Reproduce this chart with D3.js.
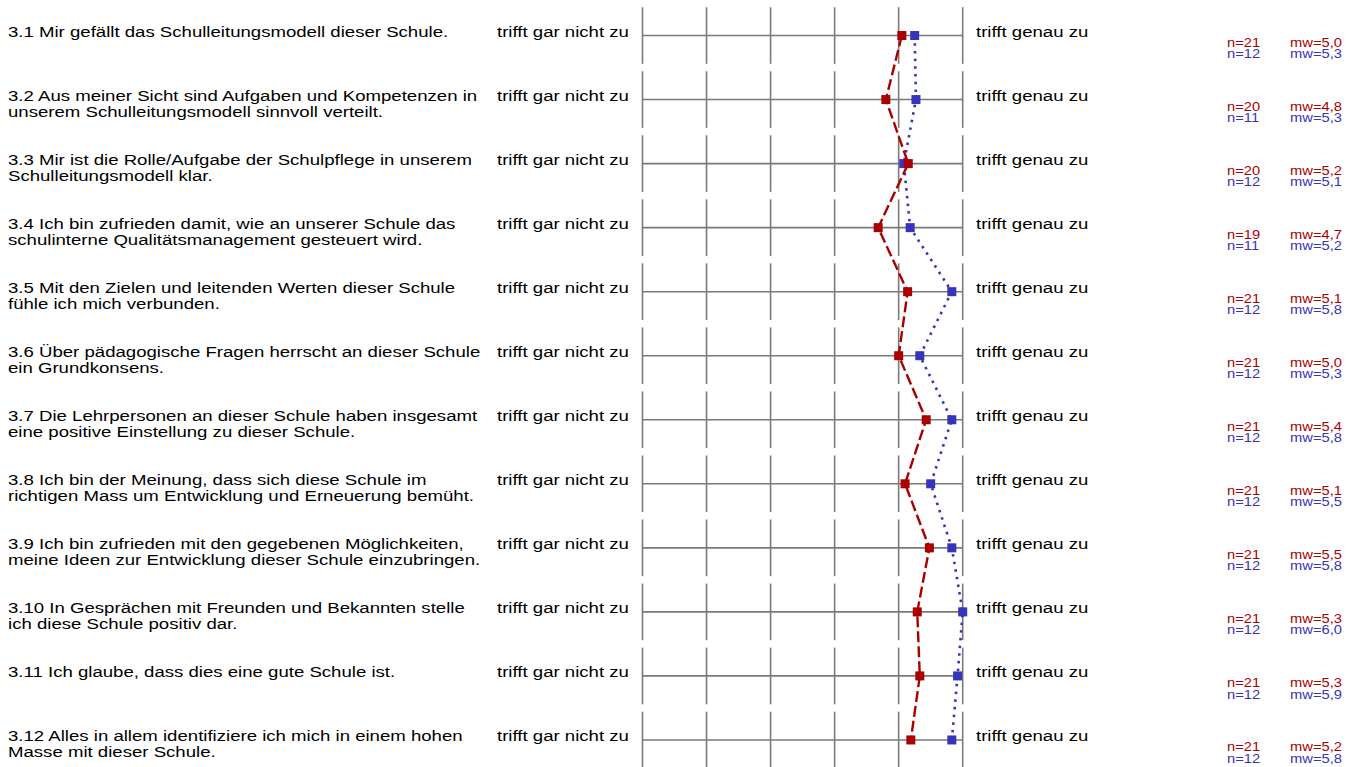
<!DOCTYPE html>
<html>
<head>
<meta charset="utf-8">
<script src="https://cdn.jsdelivr.net/npm/d3@7"></script>
<style>
  html, body { margin: 0; padding: 0; background: #fff; }
  svg { display: block; }
  text { font-family: "Liberation Sans", Arial, Helvetica, sans-serif; }
</style>
</head>
<body>
<svg id="chart" width="1346" height="767"></svg>
<script>
const questions = [
  ["3.1 Mir gefällt das Schulleitungsmodell dieser Schule."],
  ["3.2 Aus meiner Sicht sind Aufgaben und Kompetenzen in", "unserem Schulleitungsmodell sinnvoll verteilt."],
  ["3.3 Mir ist die Rolle/Aufgabe der Schulpflege in unserem", "Schulleitungsmodell klar."],
  ["3.4 Ich bin zufrieden damit, wie an unserer Schule das", "schulinterne Qualitätsmanagement gesteuert wird."],
  ["3.5 Mit den Zielen und leitenden Werten dieser Schule", "fühle ich mich verbunden."],
  ["3.6 Über pädagogische Fragen herrscht an dieser Schule", "ein Grundkonsens."],
  ["3.7 Die Lehrpersonen an dieser Schule haben insgesamt", "eine positive Einstellung zu dieser Schule."],
  ["3.8 Ich bin der Meinung, dass sich diese Schule im", "richtigen Mass um Entwicklung und Erneuerung bemüht."],
  ["3.9 Ich bin zufrieden mit den gegebenen Möglichkeiten,", "meine Ideen zur Entwicklung dieser Schule einzubringen."],
  ["3.10 In Gesprächen mit Freunden und Bekannten stelle", "ich diese Schule positiv dar."],
  ["3.11 Ich glaube, dass dies eine gute Schule ist."],
  ["3.12 Alles in allem identifiziere ich mich in einem hohen", "Masse mit dieser Schule."]
];
const leftPole = "trifft gar nicht zu";
const rightPole = "trifft genau zu";
const scaleTicks = [1, 2, 3, 4, 5, 6];

// series 1 (red)
const redMeans = [5.05, 4.80, 5.15, 4.68, 5.14, 5.00, 5.43, 5.10, 5.48, 5.29, 5.33, 5.19];
const redN     = ["n=21","n=20","n=20","n=19","n=21","n=21","n=21","n=21","n=21","n=21","n=21","n=21"];
const redMw    = ["mw=5,0","mw=4,8","mw=5,2","mw=4,7","mw=5,1","mw=5,0","mw=5,4","mw=5,1","mw=5,5","mw=5,3","mw=5,3","mw=5,2"];
// series 2 (blue)
const blueMeans = [5.25, 5.27, 5.08, 5.18, 5.83, 5.33, 5.83, 5.50, 5.83, 6.00, 5.92, 5.83];
const blueN     = ["n=12","n=11","n=12","n=11","n=12","n=12","n=12","n=12","n=12","n=12","n=12","n=12"];
const blueMw    = ["mw=5,3","mw=5,3","mw=5,1","mw=5,2","mw=5,8","mw=5,3","mw=5,8","mw=5,5","mw=5,8","mw=6,0","mw=5,9","mw=5,8"];

const RED = "#aa0000", BLUE = "#3535bb", GRID = "#7a7a7a";

const svg = d3.select("#chart");
const idx = d3.range(questions.length);
const y = d3.scaleBand().domain(idx).range([3.5, 3.5 + 64.04 * questions.length]);
const cy = i => y(i) + y.bandwidth() / 2;
const x = d3.scaleLinear().domain([1, 6]).range([642.5, 962.7]);

// grid per row
const rows = svg.append("g").selectAll("g").data(idx).join("g");
rows.append("line")
  .attr("x1", x(1)).attr("x2", x(6))
  .attr("y1", d => cy(d)).attr("y2", d => cy(d))
  .attr("stroke", GRID).attr("stroke-width", 1.6);
rows.each(function(d) {
  d3.select(this).selectAll("line.tick").data(scaleTicks).join("line")
    .attr("class", "tick")
    .attr("x1", t => x(t)).attr("x2", t => x(t))
    .attr("y1", cy(d) - 28.3).attr("y2", cy(d) + 28.3)
    .attr("stroke", GRID).attr("stroke-width", 1.6);
});

function stretchedText(g, tx, ty, size, sx, fill) {
  return g.append("text")
    .attr("transform", `translate(${tx},${ty}) scale(${sx},1)`)
    .attr("font-size", size).attr("fill", fill);
}

idx.forEach(i => {
  const t = stretchedText(svg, 8, cy(i) + 1.2, 15.5, 1.2, "#000");
  questions[i].forEach((line, k) => {
    t.append("tspan").attr("x", 0).attr("y", k * 16).text(line);
  });
  stretchedText(svg, 497, cy(i) + 1.2, 15.5, 1.2, "#000").text(leftPole);
  stretchedText(svg, 976, cy(i) + 1.2, 15.5, 1.2, "#000").text(rightPole);
  stretchedText(svg, 1227, cy(i) + 11, 12.7, 1.16, RED).text(redN[i]);
  stretchedText(svg, 1290, cy(i) + 11, 12.7, 1.16, RED).text(redMw[i]);
  stretchedText(svg, 1227, cy(i) + 22.6, 12.7, 1.16, BLUE).text(blueN[i]);
  stretchedText(svg, 1290, cy(i) + 22.6, 12.7, 1.16, BLUE).text(blueMw[i]);
});

const line = d3.line().x(d => x(d.v)).y(d => cy(d.i));
const blueData = blueMeans.map((v, i) => ({v, i}));
const redData = redMeans.map((v, i) => ({v, i}));

svg.append("path").datum(blueData).attr("d", line)
  .attr("fill", "none").attr("stroke", BLUE).attr("stroke-width", 2.6)
  .attr("stroke-dasharray", "2.5,5.2");
svg.append("g").selectAll("rect").data(blueData).join("rect")
  .attr("x", d => x(d.v) - 4.5).attr("y", d => cy(d.i) - 4.5)
  .attr("width", 9).attr("height", 9).attr("fill", BLUE);

svg.append("path").datum(redData).attr("d", line)
  .attr("fill", "none").attr("stroke", RED).attr("stroke-width", 2.4)
  .attr("stroke-dasharray", "11,4");
svg.append("g").selectAll("rect").data(redData).join("rect")
  .attr("x", d => x(d.v) - 4.5).attr("y", d => cy(d.i) - 4.5)
  .attr("width", 9).attr("height", 9).attr("fill", RED);
</script>
</body>
</html>
